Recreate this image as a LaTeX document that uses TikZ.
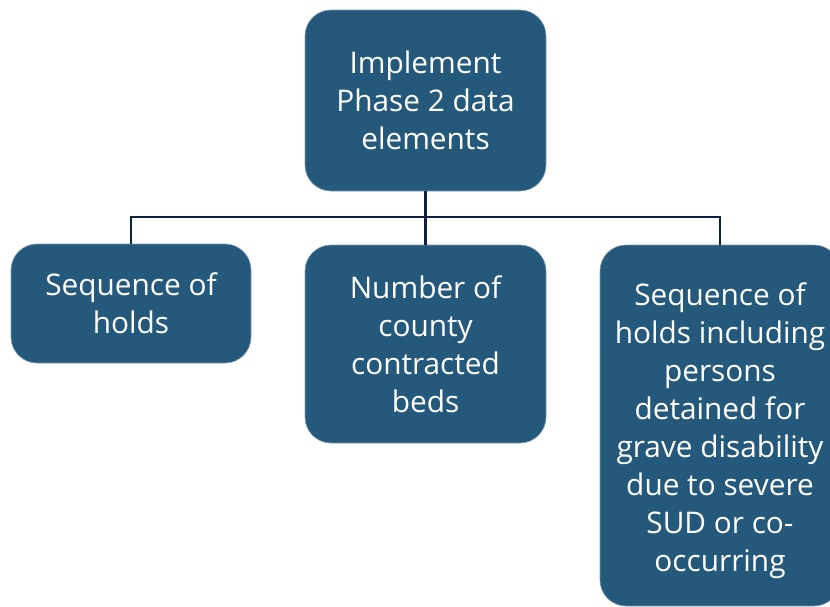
\documentclass[tikz,border=0pt]{standalone}
\usepackage{fontspec}
\setmainfont{Open Sans}
\definecolor{boxblue}{RGB}{37,89,124}
\definecolor{linknavy}{RGB}{14,32,64}
\tikzset{
  phase/.style={rectangle, rounded corners=26pt, fill=boxblue, draw=boxblue!60!white,
    line width=0.6pt, text=white, align=center, inner sep=0pt,
    font=\fontsize{29.8}{38}\selectfont},
  link/.style={linknavy, line width=2.3pt}
}
\begin{document}
\begin{tikzpicture}[x=1pt, y=-1pt]
            \clip (0,0) rectangle (830,606);
            \node[phase, minimum width=241pt, minimum height=181pt] (top) at (425.5,100.5)
                {Implement\\Phase 2 data\\elements};
            \node[phase, minimum width=240pt, minimum height=119pt] (holds) at (131,303.5)
                {Sequence of\\holds};
            \node[phase, minimum width=241pt, minimum height=198pt] (beds) at (425.5,344)
                {Number of\\county\\contracted\\beds};
            % first line strut pushes the long text down a little
            \node[phase, minimum width=240pt, minimum height=361pt] (grave) at (720,425.5)
                {\rule{0pt}{33pt}Sequence of\\holds including\\persons\\detained for\\grave disability\\due to severe\\SUD or co-\\occurring};
            \coordinate (hub) at (425.5,217);

            \draw[link] (top.south) -- (beds.north);
            \draw[link] (holds.north) |- (hub) -| (grave.north);

        \end{tikzpicture}
\end{document}
